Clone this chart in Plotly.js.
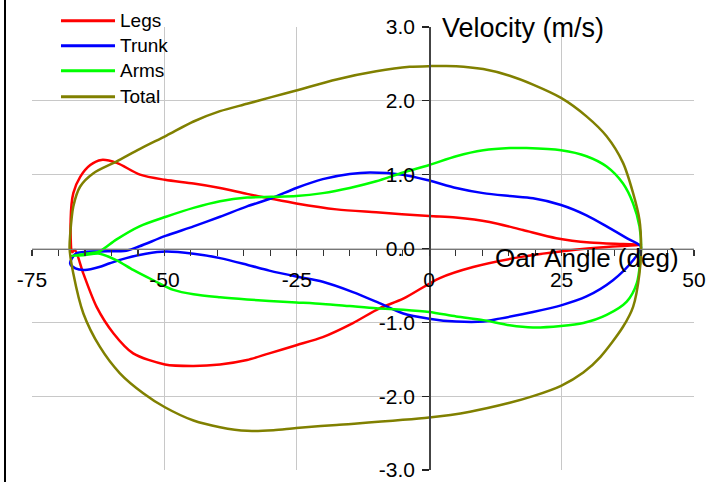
<!DOCTYPE html>
<html>
<head>
<meta charset="utf-8">
<script src="https://cdn.plot.ly/plotly-3.0.1.min.js"></script>
<style>
html,body{margin:0;padding:0;background:#fff;}
#wrap{position:relative;width:723px;height:482px;}
#chart{width:723px;height:482px;}
#frame{position:absolute;left:4px;top:0;width:2px;height:482px;background:#000;}
</style>
</head>
<body>
<div id="wrap"><div id="chart"></div><div id="frame"></div></div>
<script>
// Series names
const seriesNames = ["Legs", "Trunk", "Arms", "Total"];

// Legs: closed loop (drive upper branch, recovery lower branch)
const legsAngle = [-67.4, -67.7, -67.2, -65.9, -64.0, -61.9, -59.0, -54.6, -49.9, -44.5, -39.5, -34.4, -30.2, -25.1, -17.5, -10.0, 0.0, 5.0, 11.4, 17.7, 24.0, 30.3, 36.6, 40.0,
                   33.5, 27.2, 17.7, 8.3, 2.0, -4.9, -9.4, -14.4, -20.1, -25.1, -30.2, -34.4, -39.5, -44.5, -49.9, -55.9, -59.6, -62.8, -65.3, -66.9, -67.4];
const legsVel   = [-0.05, 0.39, 0.75, 0.97, 1.13, 1.20, 1.16, 1.00, 0.93, 0.88, 0.82, 0.74, 0.68, 0.61, 0.53, 0.49, 0.44, 0.42, 0.36, 0.25, 0.14, 0.08, 0.06, 0.05,
                   0.02, -0.02, -0.11, -0.25, -0.40, -0.68, -0.81, -1.01, -1.20, -1.31, -1.42, -1.51, -1.57, -1.59, -1.57, -1.42, -1.15, -0.79, -0.34, -0.02, -0.05];

// Trunk
const trunkAngle = [-67.8, -66.7, -62.3, -57.2, -54.7, -49.8, -44.5, -39.5, -34.4, -29.8, -25.1, -20.1, -15.0, -11.2, -5.0, 0.0, 5.1, 10.2, 15.2, 19.6, 24.9, 29.7, 33.5, 37.3, 40.0,
                    38.5, 34.7, 29.7, 24.9, 19.6, 13.3, 10.2, 5.1, 0.0, -4.9, -9.4, -14.4, -20.1, -25.1, -30.2, -34.4, -39.5, -44.5, -49.7, -53.5, -57.2, -60.3, -62.3, -65.0, -66.8, -67.8];
const trunkVel   = [-0.20, -0.07, -0.04, -0.03, 0.03, 0.17, 0.30, 0.43, 0.57, 0.68, 0.82, 0.94, 1.01, 1.03, 1.00, 0.92, 0.82, 0.75, 0.71, 0.68, 0.59, 0.45, 0.30, 0.14, 0.02,
                    -0.16, -0.43, -0.65, -0.77, -0.86, -0.95, -0.99, -0.99, -0.95, -0.88, -0.74, -0.59, -0.45, -0.38, -0.30, -0.22, -0.13, -0.07, -0.04, -0.07, -0.13, -0.20, -0.25, -0.29, -0.27, -0.20];

// Arms
const armsAngle = [-67.6, -64.8, -62.3, -59.1, -54.7, -49.7, -44.5, -39.5, -34.4, -29.8, -25.1, -20.1, -15.0, -10.0, -4.9, 0.0, 5.1, 10.2, 15.2, 18.4, 24.9, 29.7, 33.5, 36.6, 38.5, 39.7, 40.0,
                   39.2, 37.3, 33.5, 29.1, 24.9, 19.6, 15.2, 10.2, 5.1, 0.0, -4.9, -10.0, -15.0, -20.1, -25.1, -30.2, -34.4, -39.5, -44.5, -48.3, -52.1, -55.9, -59.0, -62.2, -65.3, -67.6];
const armsVel   = [-0.10, -0.07, -0.04, 0.12, 0.30, 0.43, 0.55, 0.64, 0.69, 0.70, 0.71, 0.75, 0.82, 0.91, 1.03, 1.13, 1.25, 1.33, 1.36, 1.36, 1.33, 1.25, 1.11, 0.88, 0.61, 0.30, 0.02,
                   -0.47, -0.72, -0.90, -1.01, -1.05, -1.07, -1.04, -0.97, -0.92, -0.86, -0.83, -0.81, -0.78, -0.75, -0.73, -0.71, -0.69, -0.66, -0.62, -0.56, -0.43, -0.29, -0.16, -0.07, -0.09, -0.10];

// Total
const totalAngle = [-67.9, -67.8, -67.2, -65.9, -63.4, -59.0, -54.6, -49.6, -44.5, -39.5, -34.4, -29.8, -25.1, -17.5, -10.0, -3.7, 0.1, 5.1, 10.2, 15.2, 19.6, 24.9, 29.7, 33.5, 36.6, 38.5, 39.7, 40.0,
                    39.7, 38.5, 36.6, 32.3, 29.1, 24.9, 19.6, 15.2, 7.7, 0.0, -17.5, -25.1, -29.4, -34.4, -39.5, -44.5, -49.9, -54.0, -58.4, -62.2, -65.3, -67.2, -67.9];
const totalVel   = [0.00, 0.18, 0.57, 0.84, 1.02, 1.18, 1.35, 1.53, 1.72, 1.86, 1.96, 2.05, 2.14, 2.29, 2.40, 2.46, 2.47, 2.47, 2.43, 2.34, 2.22, 2.04, 1.79, 1.52, 1.16, 0.75, 0.39, 0.03,
                    -0.34, -0.79, -1.06, -1.47, -1.68, -1.86, -2.00, -2.09, -2.21, -2.29, -2.39, -2.43, -2.46, -2.47, -2.42, -2.33, -2.15, -1.96, -1.69, -1.33, -0.88, -0.34, 0.00];

// Axis ticks
const xTickVals = [-75, -50, -25, 0, 25, 50];
const xTickText = ["-75", "-50", "-25", "0", "25", "50"];
const yTickVals = [-3, -2, -1, 0, 1, 2, 3];
const yTickText = ["-3.0", "-2.0", "-1.0", "0.0", "1.0", "2.0", "3.0"];

const seriesColors = ["#ff0000", "#0000ff", "#00ff00", "#808000"];
const xs = [legsAngle, trunkAngle, armsAngle, totalAngle];
const ys = [legsVel, trunkVel, armsVel, totalVel];

const FONT = "Arial, 'Liberation Sans', sans-serif";

const traces = seriesNames.map((n, i) => ({
  type: "scatter", mode: "lines", name: n,
  x: xs[i], y: ys[i],
  line: {color: seriesColors[i], width: 2.5, shape: "spline", smoothing: 0.8},
  hoverinfo: "skip", showlegend: false
}));

// Legend drawn as key lines + labels at the top-left (styling only)
const legendRowY = [1.0142, 0.9578, 0.9014, 0.8427];
const legendShapes = seriesNames.map((n, i) => ({
  type: "line", xref: "paper", yref: "paper",
  x0: 0.0438, x1: 0.1254, y0: legendRowY[i], y1: legendRowY[i],
  line: {color: seriesColors[i], width: 3}
}));
const legendLabels = seriesNames.map((n, i) => ({
  text: n, xref: "paper", yref: "paper", x: 0.1300, y: legendRowY[i],
  xanchor: "left", yanchor: "middle", showarrow: false,
  font: {family: FONT, size: 19, color: "#000"}
}));

const layout = {
  width: 723, height: 482,
  margin: {l: 32, r: 29, t: 27, b: 12},
  paper_bgcolor: "#fff", plot_bgcolor: "#fff",
  font: {family: FONT, color: "#000"},
  showlegend: false,
  xaxis: {
    range: [-75, 50], anchor: "free", position: 0.5,
    tickvals: xTickVals, ticktext: xTickText,
    showgrid: true, gridcolor: "#c8c8c8", gridwidth: 1,
    zeroline: false, showline: true, linecolor: "#777", linewidth: 1.5,
    ticks: "outside", ticklen: 6, tickcolor: "#333", tickwidth: 1.2,
    minor: {dtick: 5, ticks: "outside", ticklen: 6, tickcolor: "#333", showgrid: false},
    ticklabelstandoff: 6,
    tickfont: {family: FONT, size: 21, color: "#000"}
  },
  yaxis: {
    range: [-3, 3], anchor: "free", position: 0.6,
    tickvals: yTickVals, ticktext: yTickText,
    showgrid: true, gridcolor: "#c8c8c8", gridwidth: 1,
    zeroline: false, showline: true, linecolor: "#444", linewidth: 1.5,
    ticks: "outside", ticklen: 7, tickcolor: "#222", tickwidth: 1.2,
    ticklabelstandoff: 3,
    tickfont: {family: FONT, size: 21, color: "#000"}
  },
  yaxis2: {
    overlaying: "y", matches: "y", anchor: "free", position: 0.6,
    tickvals: yTickVals, showticklabels: false,
    showgrid: false, zeroline: false, showline: false,
    ticks: "inside", ticklen: 7, tickcolor: "#222", tickwidth: 1.2
  },
  shapes: legendShapes,
  annotations: legendLabels.concat([
    {text: "Oar Angle (deg)", xref: "paper", yref: "paper", x: 0.838, y: 0.478,
     xanchor: "center", yanchor: "middle", showarrow: false,
     font: {family: FONT, size: 26, color: "#000"}},
    {text: "Velocity (m/s)", xref: "paper", yref: "paper", x: 0.742, y: 0.998,
     xanchor: "center", yanchor: "middle", showarrow: false,
     font: {family: FONT, size: 27, color: "#000"}}
  ])
};

Plotly.newPlot("chart", traces, layout, {staticPlot: true, displayModeBar: false});
</script>
</body>
</html>
